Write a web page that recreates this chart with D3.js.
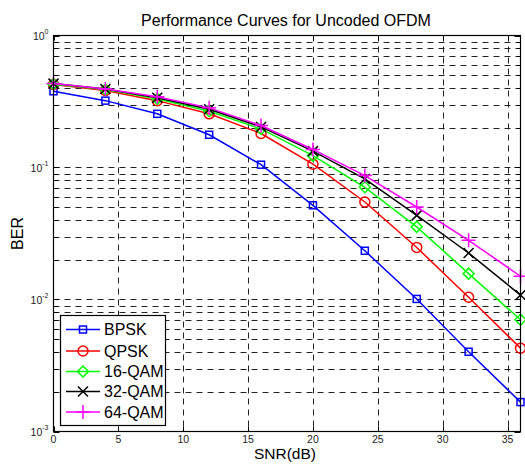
<!DOCTYPE html>
<html><head><meta charset="utf-8">
<script src="https://cdn.jsdelivr.net/npm/d3@7"></script>
<style>body{margin:0;background:#fff}svg{display:block}text{font-family:"Liberation Sans",Arial,sans-serif}</style>
</head><body><svg id="c" width="525" height="465"></svg>
<script>
const snr = [0,4,8,12,16,20,24,28,32,36];
const bpsk  = [0.378,0.321,0.255,0.177,0.105,0.0517,0.0234,0.0101,0.00402,0.00167];
const qpsk  = [0.425,0.383,0.321,0.255,0.181,0.106,0.0548,0.0248,0.0104,0.00428];
const qam16 = [0.428,0.389,0.331,0.267,0.196,0.123,0.0708,0.0355,0.0157,0.00703];
const qam32 = [0.432,0.393,0.338,0.276,0.203,0.133,0.0819,0.0434,0.0225,0.0108];
const qam64 = [0.433,0.394,0.343,0.283,0.208,0.137,0.0868,0.0502,0.0281,0.0150];
const seriesNames = ["BPSK","QPSK","16-QAM","32-QAM","64-QAM"];
const xTicks = [0,5,10,15,20,25,30,35];
const yMajor = [1e-3,1e-2,1e-1,1];
const yExp = ["-3","-2","-1","0"];

const colors = ["#0000ff","#ff0000","#00ff00","#000000","#ff00ff"];
const markers = ["square","circle","diamond","x","plus"];
const data = [bpsk,qpsk,qam16,qam32,qam64];

const L=53.5,R=520.5,T=35.5,B=431.5;
const svg = d3.select("#c");
const x = d3.scaleLinear().domain([0,36]).range([L,R]);
const y = d3.scaleLog().domain([1e-3,1]).range([B,T]);

// grid
const minor=[];
for(let e=-3;e<0;e++) for(let m=1;m<=9;m++) minor.push(m*Math.pow(10,e));
const g = svg.append("g");
minor.slice(1).forEach(v=>{
  g.append("line").attr("x1",L).attr("x2",R).attr("y1",Math.round(y(v))+0.5).attr("y2",Math.round(y(v))+0.5)
   .attr("stroke","#222").attr("stroke-width",1).attr("stroke-dasharray","6,5");
});
xTicks.slice(1).forEach(v=>{
  g.append("line").attr("x1",Math.round(x(v))+0.5).attr("x2",Math.round(x(v))+0.5).attr("y1",T).attr("y2",B)
   .attr("stroke","#222").attr("stroke-width",1).attr("stroke-dasharray","6,5");
});

// ticks inside
const tk = svg.append("g").attr("stroke","#000").attr("stroke-width",1);
minor.concat([1]).forEach(v=>{
  const yy=Math.round(y(v))+0.5;
  const len = yMajor.includes(v)?6:4;
  tk.append("line").attr("x1",L).attr("x2",L+len).attr("y1",yy).attr("y2",yy);
  tk.append("line").attr("x1",R-len).attr("x2",R).attr("y1",yy).attr("y2",yy);
});
xTicks.forEach(v=>{
  const xx=Math.round(x(v))+0.5;
  tk.append("line").attr("x1",xx).attr("x2",xx).attr("y1",B).attr("y2",B-5);
  tk.append("line").attr("x1",xx).attr("x2",xx).attr("y1",T).attr("y2",T+5);
});

// series
const line = d3.line().x((d,i)=>x(snr[i])).y(d=>y(d));
function marker(sel,type,c){
  sel.each(function(){
    const m=d3.select(this);
    if(type==="square") m.append("rect").attr("x",-3.5).attr("y",-3.5).attr("width",7).attr("height",7).attr("fill","none").attr("stroke",c).attr("stroke-width",1.5);
    if(type==="circle") m.append("circle").attr("r",5).attr("fill","none").attr("stroke",c).attr("stroke-width",1.5);
    if(type==="diamond") m.append("path").attr("d","M0,-5.5L5.5,0L0,5.5L-5.5,0Z").attr("fill","none").attr("stroke",c).attr("stroke-width",1.5);
    if(type==="x") m.append("path").attr("d","M-5,-5L5,5M-5,5L5,-5").attr("stroke",c).attr("stroke-width",1.5);
    if(type==="plus") m.append("path").attr("d","M-7,0L7,0M0,-7L0,7").attr("stroke",c).attr("stroke-width",1.5);
  });
}
data.forEach((d,k)=>{
  svg.append("path").attr("d",line(d)).attr("fill","none").attr("stroke",colors[k]).attr("stroke-width",1.5);
  const pts = svg.append("g").selectAll("g").data(d).join("g")
    .attr("transform",(v,i)=>`translate(${x(snr[i])},${y(v)})`);
  marker(pts,markers[k],colors[k]);
});

// frame
svg.append("rect").attr("x",L).attr("y",T).attr("width",R-L).attr("height",B-T).attr("fill","none").attr("stroke","#000").attr("stroke-width",1.2);

// tick labels
xTicks.forEach(v=>{
  svg.append("text").attr("x",x(v)).attr("y",B+11.5).attr("text-anchor","middle").attr("font-size",10.5).attr("fill","#222").text(v);
});
yMajor.forEach((v,i)=>{
  const t=svg.append("text").attr("x",L-5).attr("y",y(v)+4).attr("text-anchor","end").attr("font-size",10.5).attr("fill","#222");
  t.append("tspan").text("10");
  t.append("tspan").attr("dy",-6).attr("font-size",7).text(yExp[i]);
});

// labels
svg.append("text").attr("x",286).attr("y",26).attr("text-anchor","middle").attr("font-size",16).attr("fill","#000").text("Performance Curves for Uncoded OFDM");
svg.append("text").attr("x",285).attr("y",458.5).attr("text-anchor","middle").attr("font-size",15.5).attr("fill","#000").text("SNR(dB)");
svg.append("text").attr("transform",`translate(23,${(T+B)/2}) rotate(-90)`).attr("text-anchor","middle").attr("font-size",16).attr("fill","#000").text("BER");

// legend
const lg = svg.append("g");
lg.append("rect").attr("x",60.5).attr("y",315.5).attr("width",105).attr("height",110).attr("fill","#fff").attr("stroke","#000").attr("stroke-width",1.2);
const ly=[329.5,351,371.5,391.5,412];
seriesNames.forEach((n,k)=>{
  lg.append("line").attr("x1",66).attr("x2",100).attr("y1",ly[k]).attr("y2",ly[k]).attr("stroke",colors[k]).attr("stroke-width",1.5);
  const m=lg.append("g").attr("transform",`translate(83,${ly[k]})`);
  marker(m,markers[k],colors[k]);
  lg.append("text").attr("x",104).attr("y",ly[k]+5.5).attr("font-size",16).attr("fill","#000").text(n);
});
</script></body></html>
